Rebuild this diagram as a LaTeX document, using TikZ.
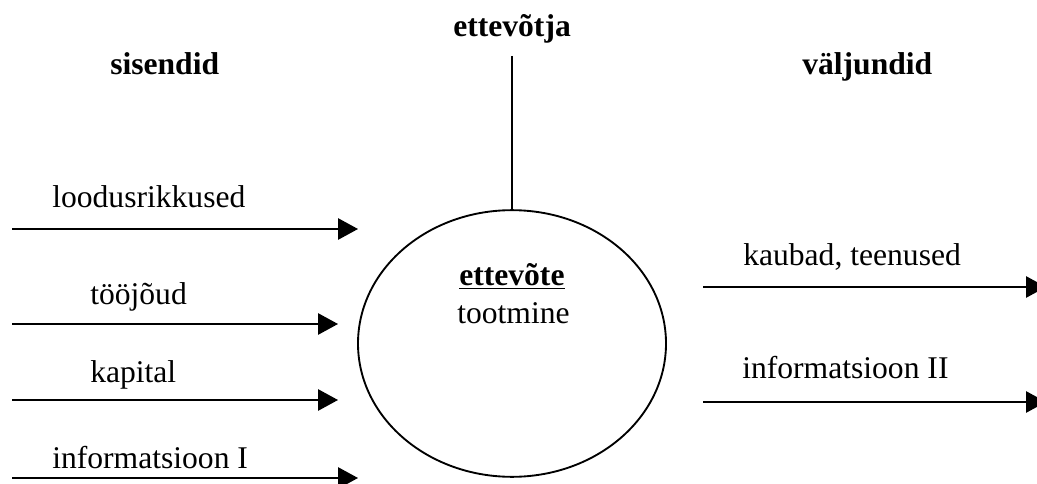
\documentclass[tikz,border=0pt]{standalone}
\usepackage{fontspec}
\setmainfont{Liberation Serif}
\usetikzlibrary{arrows.meta,shapes.geometric}

\tikzset{
  lbl/.style={anchor=base west,inner sep=0pt,font=\fontsize{23.7pt}{28pt}\selectfont},
  head/.style={anchor=base west,inner sep=0pt,font=\fontsize{23.7pt}{28pt}\selectfont\bfseries},
  flow/.style={line width=1.3pt,-{Triangle[length=15pt,width=16pt]}},
}

\begin{document}
\begin{tikzpicture}[x=0.75pt,y=0.75pt,yscale=-1,xscale=1]
\useasboundingbox (0,0) rectangle (1037,484);

%Shape: Ellipse
\node[draw,ellipse,line width=1.4pt,inner sep=0pt,minimum width=231pt,minimum height=200pt] (firm) at (512,343.5) {};

% Text Node
\node[head] (owner) at (453,37) {ettevõtja};
\node[head] (inhead) at (110,75) {sisendid};
\node[head] (outhead) at (802,75) {väljundid};
\node[head] (firmname) at (459,286) {\underline{ettevõte}};
\node[lbl] (firmwork) at (457,323) {tootmine};

% inputs
\node[lbl] (nature) at (52,208) {loodusrikkused};
\node[lbl] (labour) at (90,305) {tööjõud};
\node[lbl] (capital) at (90,382) {kapital};
\node[lbl] (infoin) at (52,468) {informatsioon I};

% outputs
\node[lbl] (goods) at (743,266) {kaubad, teenused};
\node[lbl] (infoout) at (742,378) {informatsioon II};

% line ends
\coordinate (ownerline) at (512,56);
\coordinate (natureA) at (12,229);   \coordinate (natureB) at (358,229);
\coordinate (labourA) at (12,324);   \coordinate (labourB) at (338,324);
\coordinate (capitalA) at (12,400);  \coordinate (capitalB) at (338,400);
\coordinate (infoinA) at (12,478);   \coordinate (infoinB) at (358,478);
\coordinate (goodsA) at (703,287);   \coordinate (goodsB) at (1046,287);
\coordinate (infooutA) at (703,402); \coordinate (infooutB) at (1046,402);

%Straight Lines
\draw[line width=1.1pt] (ownerline) -- (firm.north);
\draw[flow] (natureA) -- (natureB);
\draw[flow] (labourA) -- (labourB);
\draw[flow] (capitalA) -- (capitalB);
\draw[flow] (infoinA) -- (infoinB);
\draw[flow] (goodsA) -- (goodsB);
\draw[flow] (infooutA) -- (infooutB);

\end{tikzpicture}
\end{document}
